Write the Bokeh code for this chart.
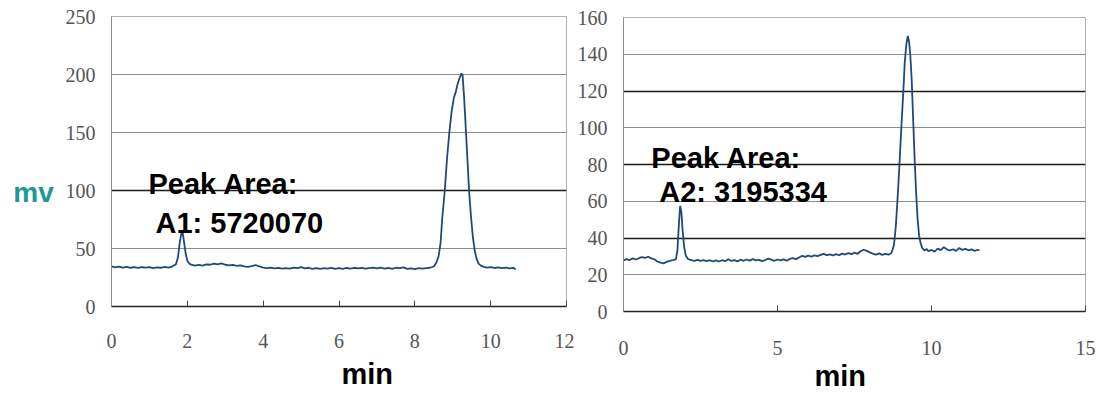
from bokeh.plotting import figure
from bokeh.layouts import row, column
from bokeh.models import FixedTicker, Grid, Label, Range1d, Title
from bokeh.embed import file_html
from bokeh.resources import INLINE

# ---------------- data ----------------
left_time = [0.0, 0.1, 0.2, 0.3, 0.4, 0.5, 0.6, 0.7, 0.8, 0.9, 1.0, 1.1, 1.2, 1.3, 1.4, 1.5,
             1.6, 1.7, 1.75, 1.8, 1.85, 1.88, 1.92, 1.96, 2.0, 2.05, 2.1, 2.2, 2.3, 2.4, 2.5,
             2.6, 2.7, 2.8, 2.9, 3.0, 3.1, 3.2, 3.3, 3.4, 3.5, 3.6, 3.7, 3.8, 3.9, 4.0, 4.1,
             4.2, 4.3, 4.4, 4.5, 4.6, 4.7, 4.8, 4.9, 5.0, 5.1, 5.2, 5.3, 5.4, 5.5, 5.6, 5.7,
             5.8, 5.9, 6.0, 6.1, 6.2, 6.3, 6.4, 6.5, 6.6, 6.7, 6.8, 6.9, 7.0, 7.1, 7.2, 7.3,
             7.4, 7.5, 7.6, 7.7, 7.8, 7.9, 8.0, 8.1, 8.2, 8.3, 8.4, 8.5, 8.57, 8.63, 8.68,
             8.72, 8.79, 8.85, 8.91, 8.97, 9.03, 9.08, 9.13, 9.18, 9.23, 9.26, 9.3, 9.35,
             9.39, 9.43, 9.48, 9.53, 9.58, 9.63, 9.68, 9.75, 9.82, 9.9, 10.0, 10.1, 10.2,
             10.3, 10.4, 10.5, 10.6, 10.66]
left_mv = [34.5, 33.8, 34.3, 33.6, 34.2, 33.4, 33.9, 33.2, 34.0, 33.5, 33.9, 33.1, 33.8, 33.4, 34.1, 33.6,
           34.4, 36.5, 42.0, 55.0, 64.5, 63.0, 54.0, 45.0, 39.5, 37.0, 36.0, 35.2, 35.8, 35.3, 36.4,
           36.0, 37.0, 36.3, 37.1, 36.0, 35.5, 35.9, 35.0, 35.4, 34.6, 34.2, 34.8, 35.6, 34.5, 33.6, 33.0,
           33.5, 32.8, 33.3, 32.6, 33.1, 32.7, 33.6, 33.0, 34.0, 32.9, 33.4, 32.5, 33.1, 32.4, 33.0, 32.6,
           33.3, 32.5, 33.0, 32.4, 33.2, 32.7, 33.4, 32.8, 33.3, 32.6, 33.1, 33.6, 32.9, 33.5, 32.7, 33.2,
           32.5, 33.4, 33.0, 33.7, 32.4, 32.9, 32.3, 33.0, 32.6, 33.1, 33.4, 34.5, 38.0, 44.0, 55.0,
           75.0, 100.0, 128.0, 150.0, 168.0, 180.0, 185.0, 192.0, 197.0, 201.0, 199.0, 180.0, 150.0,
           125.0, 100.0, 78.0, 60.0, 48.0, 41.0, 37.0, 35.0, 34.2, 33.6, 34.0, 33.2, 33.7,
           33.0, 33.5, 32.8, 33.3, 32.0]

right_time = [0.0, 0.1, 0.2, 0.3, 0.4, 0.5, 0.6, 0.7, 0.8, 0.9, 1.0, 1.1, 1.2, 1.3, 1.4, 1.5,
              1.6, 1.7, 1.75, 1.8, 1.84, 1.88, 1.92, 1.97, 2.02, 2.1, 2.2, 2.3, 2.4, 2.5, 2.6,
              2.7, 2.8, 2.9, 3.0, 3.1, 3.2, 3.3, 3.4, 3.5, 3.6, 3.7, 3.8, 3.9, 4.0, 4.1, 4.2,
              4.3, 4.4, 4.5, 4.6, 4.7, 4.8, 4.9, 5.0, 5.1, 5.2, 5.3, 5.4, 5.5, 5.6, 5.7, 5.8,
              5.9, 6.0, 6.1, 6.2, 6.3, 6.4, 6.5, 6.6, 6.7, 6.8, 6.9, 7.0, 7.1, 7.2, 7.3, 7.4,
              7.5, 7.6, 7.7, 7.8, 7.9, 8.0, 8.1, 8.2, 8.3, 8.4, 8.5, 8.6, 8.7, 8.78, 8.84, 8.9,
              8.96, 9.02, 9.08, 9.13, 9.18, 9.23, 9.27, 9.31, 9.36, 9.41, 9.45, 9.5, 9.55, 9.6,
              9.65, 9.7, 9.78, 9.85, 9.9, 10.0, 10.1, 10.2, 10.3, 10.4, 10.5, 10.6, 10.7, 10.8,
              10.9, 11.0, 11.1, 11.2, 11.3, 11.4, 11.5, 11.56]
right_mv = [27.8, 28.5, 28.0, 28.9, 28.3, 29.0, 29.6, 29.2, 29.8, 28.9, 28.4, 27.2, 26.6, 26.2, 27.0, 27.6,
            27.9, 28.3, 33.0, 48.0, 57.5, 54.0, 44.0, 35.0, 30.5, 28.5, 28.0, 27.6, 28.1, 27.5, 28.0,
            27.4, 27.9, 27.3, 27.8, 27.2, 27.9, 27.4, 28.4, 27.5, 28.0, 27.3, 28.2, 27.6, 28.3, 27.7, 28.5,
            27.8, 28.1, 27.4, 28.0, 28.8, 28.2, 27.6, 28.3, 27.8, 28.4, 27.6, 28.6, 29.0, 28.5, 29.4, 30.3,
            29.7, 30.4, 29.9, 30.6, 30.1, 30.8, 31.4, 30.7, 31.1, 30.5, 31.2, 30.6, 31.5, 31.0, 31.8, 31.2,
            32.0, 31.4, 32.8, 33.6, 33.0, 32.2, 31.4, 31.0, 31.6, 30.8, 31.3, 30.9, 31.8, 36.0, 46.0, 62.0,
            80.0, 100.0, 118.0, 135.0, 145.0, 150.0, 147.0, 140.0, 125.0, 102.0, 84.0, 65.0, 50.0, 41.0,
            37.0, 34.5, 33.2, 34.0, 32.8, 33.5, 32.6, 34.2, 33.4, 35.0, 33.8, 33.2, 33.9, 33.0,
            34.6, 33.5, 34.1, 33.3, 33.8, 33.0, 33.6, 33.2]

left_xticks = [0, 2, 4, 6, 8, 10, 12]
left_yticks = [0, 50, 100, 150, 200, 250]
left_dark_grid = [100]
left_light_grid = [50, 150, 200]

right_xticks = [0, 5, 10, 15]
right_yticks = [0, 20, 40, 60, 80, 100, 120, 140, 160]
right_dark_grid = [40, 80, 120]
right_light_grid = [20, 60, 100, 140]

left_note = ["Peak Area:", "A1: 5720070"]
right_note = ["Peak Area:", "A2: 3195334"]
y_unit = "mv"
x_unit = "min"

LINE = "#1f497d"
TICK_FONT = "Liberation Serif"
BOLD_FONT = "Liberation Sans"
H = 394


def make_chart(width, xmax, ymax, xticks, yticks, light, dark, time, mv,
               mb_left, mb_right, mb_top, mb_bottom, x_standoff, unit_offset, unit_standoff):
    p = figure(width=width, height=H, x_range=Range1d(0, xmax), y_range=Range1d(0, ymax),
               output_backend="svg", toolbar_location=None,
               min_border_left=mb_left, min_border_right=mb_right,
               min_border_top=mb_top, min_border_bottom=mb_bottom)
    p.background_fill_color = "white"
    p.border_fill_color = "white"
    p.outline_line_color = "#b0b0b0"
    p.outline_line_width = 1

    p.xgrid.visible = False
    p.ygrid.ticker = FixedTicker(ticks=light)
    p.ygrid.grid_line_color = "#8c8c8c"
    p.ygrid.grid_line_width = 1
    g = Grid(dimension=1, ticker=FixedTicker(ticks=dark), grid_line_color="#1a1a1a",
             grid_line_width=1.3)
    p.add_layout(g)

    xa = p.xaxis[0]
    xa.ticker = FixedTicker(ticks=xticks)
    xa.major_tick_in = 6
    xa.major_tick_out = 0
    xa.minor_tick_line_color = None
    xa.axis_line_color = "#222222"
    xa.axis_line_width = 1.6
    xa.major_tick_line_color = "#444444"
    xa.major_label_standoff = x_standoff
    xa.major_label_text_font = TICK_FONT
    xa.major_label_text_font_size = "20px"
    xa.major_label_text_color = "#555555"

    ya = p.yaxis[0]
    ya.ticker = FixedTicker(ticks=yticks)
    ya.major_tick_in = 0
    ya.major_tick_out = 0
    ya.minor_tick_line_color = None
    ya.axis_line_color = "#8c8c8c"
    ya.axis_line_width = 1
    ya.major_label_standoff = 16
    ya.major_label_text_font = TICK_FONT
    ya.major_label_text_font_size = "20px"
    ya.major_label_text_color = "#555555"

    p.line(time, mv, line_color=LINE, line_width=1.8)

    p.add_layout(Title(text=x_unit, align="left", offset=unit_offset, standoff=unit_standoff,
                       text_font=BOLD_FONT, text_font_style="bold", text_font_size="29px",
                       text_color="black"), "below")
    return p


bold = dict(text_font=BOLD_FONT, text_font_style="bold", text_font_size="29px",
            text_color="black")

left = make_chart(514, 12, 250, left_xticks, left_yticks, left_light_grid, left_dark_grid,
                  left_time, left_mv, 51, 8, 16, H - 306, 27, 230, 10)
right = make_chart(528, 15, 160, right_xticks, right_yticks, right_light_grid, right_dark_grid,
                   right_time, right_mv, 47, 17, 17, H - 311, 29, 191, 0)

left.add_layout(Label(x=0.976, y=106, text=left_note[0], text_baseline="alphabetic", **bold))
left.add_layout(Label(x=1.16, y=72.4, text=left_note[1], text_baseline="alphabetic", **bold))
right.add_layout(Label(x=0.905, y=83.8, text=right_note[0], text_baseline="alphabetic", **bold))
right.add_layout(Label(x=1.16, y=64.8, text=right_note[1], text_baseline="alphabetic", **bold))

# narrow strip holding the "mv" unit; its frame lines up with the first chart's frame
mv_strip = figure(width=60, height=H, x_range=Range1d(0, 60), y_range=left.y_range,
                  output_backend="svg", toolbar_location=None, x_axis_type=None, y_axis_type=None,
                  min_border_left=0, min_border_right=0, min_border_top=16,
                  min_border_bottom=H - 306)
mv_strip.outline_line_color = None
mv_strip.grid.visible = False
mv_strip.add_layout(Label(x=33, y=98, text=y_unit, text_align="center",
                          text_baseline="middle", text_font=BOLD_FONT, text_font_style="bold",
                          text_font_size="28px", text_color="#1b9a94"))

layout = row(mv_strip, left, column(right), spacing=0)
open("out.html", "w").write(file_html(layout, INLINE))
